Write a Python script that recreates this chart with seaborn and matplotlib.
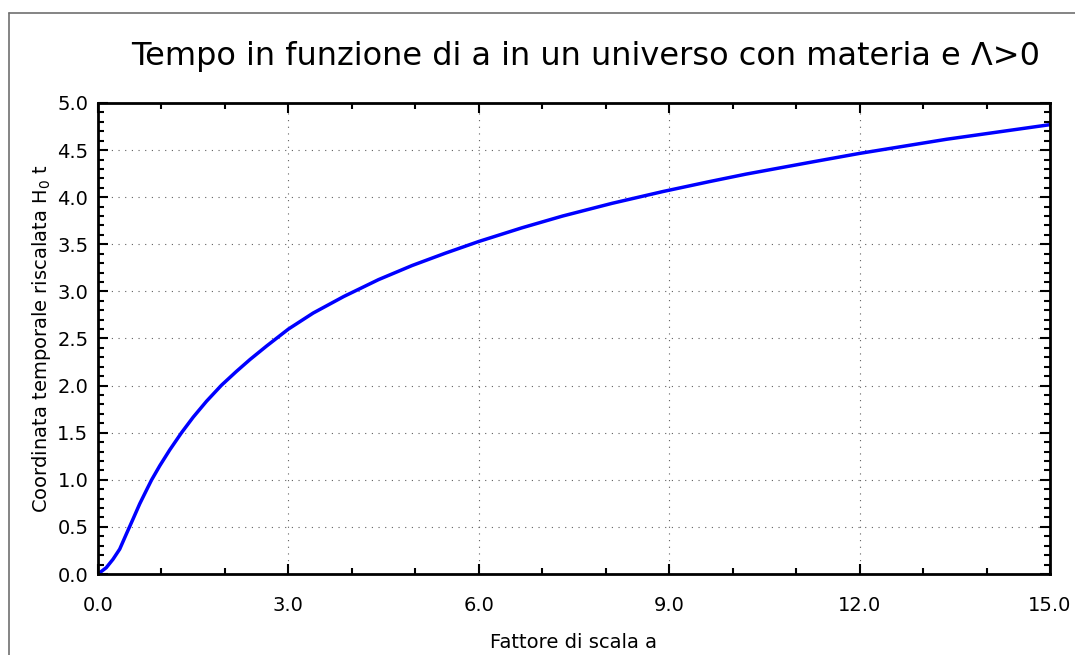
import pandas as pd
import matplotlib
matplotlib.use("Agg")
import matplotlib.pyplot as plt
from matplotlib.lines import Line2D
from matplotlib.ticker import MultipleLocator, FormatStrFormatter
import seaborn as sns

# values
scale_factor = [0.0, 0.13, 0.237, 0.342, 0.447, 0.553, 0.658, 0.763, 0.842, 0.974,
                1.13, 1.316, 1.5, 1.71, 1.947, 2.18, 2.395, 2.66, 3.0, 3.39,
                3.87, 4.42, 4.95, 5.47, 6.0, 6.68, 7.32, 8.1, 8.9,
                9.63, 10.21, 11.26, 12.0, 13.37, 15.0]
time_h0t = [0.0, 0.067, 0.157, 0.264, 0.425, 0.585, 0.746, 0.889, 0.996, 1.15,
            1.317, 1.50, 1.665, 1.834, 2.005, 2.15, 2.277, 2.422, 2.6, 2.77,
            2.945, 3.125, 3.275, 3.405, 3.53, 3.675, 3.80, 3.935, 4.06,
            4.165, 4.245, 4.375, 4.465, 4.615, 4.77]

title = "Tempo in funzione di a in un universo con materia e Λ>0"
xlabel = "Fattore di scala a"
ylabel = "Coordinata temporale riscalata H$_0$ t"

df = pd.DataFrame({"a": scale_factor, "t": time_h0t})

sns.set_style("ticks")
plt.rcParams["font.family"] = ["DejaVu Sans"]
plt.rcParams["text.color"] = "black"
plt.rcParams["axes.labelcolor"] = "black"

W, H = 1075, 655
fig = plt.figure(figsize=(W / 100, H / 100), dpi=100)
ax = fig.add_axes([98 / W, 1 - 574 / H, (1050 - 98) / W, (574 - 103) / H])

sns.lineplot(data=df, x="a", y="t", ax=ax, color="#0000ff", linewidth=2.5, sort=False)

ax.set_xlim(0, 15)
ax.set_ylim(0, 5)
ax.xaxis.set_major_locator(MultipleLocator(3))
ax.xaxis.set_minor_locator(MultipleLocator(1))
ax.yaxis.set_major_locator(MultipleLocator(0.5))
ax.yaxis.set_minor_locator(MultipleLocator(0.1))
ax.xaxis.set_major_formatter(FormatStrFormatter("%.1f"))
ax.yaxis.set_major_formatter(FormatStrFormatter("%.1f"))

ax.tick_params(which="both", direction="in", top=True, right=True, colors="black",
               labelsize=14, width=1.5)
ax.tick_params(which="major", length=7)
ax.tick_params(which="minor", length=4.5)
ax.tick_params(axis="x", which="major", pad=16)
ax.tick_params(axis="y", which="major", pad=7)

for s in ax.spines.values():
    s.set_linewidth(2)
    s.set_color("black")
    s.set_visible(True)

ax.grid(True, which="major", color="#606060", linestyle=(0, (1, 5)), linewidth=0.8)

ax.set_xlabel(xlabel, fontsize=14, labelpad=13)
ax.set_ylabel(ylabel, fontsize=14, labelpad=3)

fig.text(586 / W, 1 - 65 / H, title, fontsize=23, ha="center", va="baseline", color="black")

# screenshot frame on left and top
fig.add_artist(Line2D([8.5 / W, 8.5 / W], [0, 1 - 13 / H], transform=fig.transFigure,
                      color="#707070", linewidth=1.2))
fig.add_artist(Line2D([8.5 / W, 1], [1 - 13 / H, 1 - 13 / H], transform=fig.transFigure,
                      color="#707070", linewidth=1.2))

fig.savefig("out.png", dpi=100)
